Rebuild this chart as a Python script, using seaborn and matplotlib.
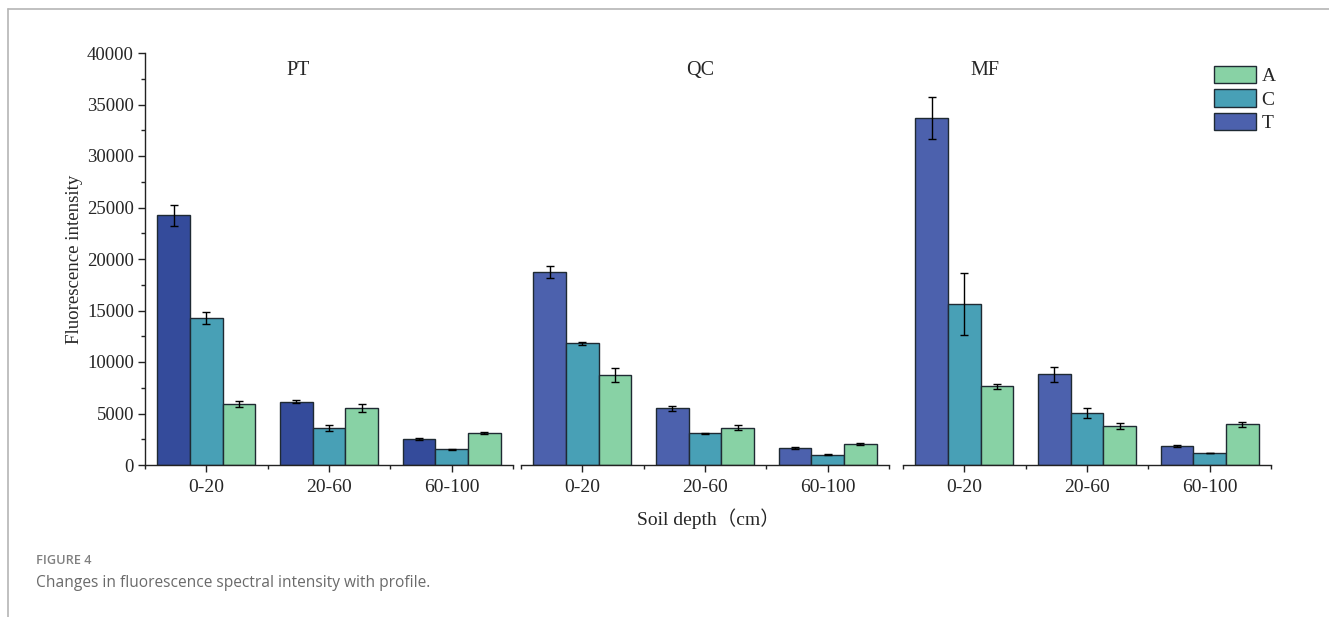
import matplotlib
matplotlib.use("Agg")
import matplotlib.pyplot as plt
import matplotlib.patches as mpatches
from matplotlib.lines import Line2D
from matplotlib.ticker import MultipleLocator, FixedLocator
import seaborn as sns
import pandas as pd

# data
sites = ["PT", "QC", "MF"]
depths = ["0-20", "20-60", "60-100"]
fractions = ["T", "C", "A"]

pt_mean = {"T": [24250, 6150, 2550], "C": [14300, 3600, 1550], "A": [5950, 5550, 3100]}
pt_err = {"T": [1000, 120, 100], "C": [600, 300, 50], "A": [300, 400, 60]}
qc_mean = {"T": [18720, 5500, 1650], "C": [11800, 3100, 1000], "A": [8750, 3600, 2050]}
qc_err = {"T": [600, 250, 80], "C": [120, 50, 30], "A": [650, 250, 100]}
mf_mean = {"T": [33720, 8800, 1820], "C": [15600, 5050, 1150], "A": [7650, 3780, 3950]}
mf_err = {"T": [2050, 700, 80], "C": [3000, 440, 30], "A": [260, 330, 250]}

means = {"PT": pt_mean, "QC": qc_mean, "MF": mf_mean}
errs = {"PT": pt_err, "QC": qc_err, "MF": mf_err}

# colours
col_T_pt = "#344b9b"
col_T = "#4c61ad"
col_C = "#48a0b6"
col_A = "#88d2a5"

rows = []
for s in sites:
    for f in fractions:
        for i, d in enumerate(depths):
            rows.append({"site": s, "depth": d, "fraction": f,
                         "value": means[s][f][i], "err": errs[s][f][i]})
df = pd.DataFrame(rows)

sns.set_style("white")
plt.rcParams["font.family"] = ["Liberation Serif", "Noto Sans CJK SC", "DejaVu Sans"]
plt.rcParams["axes.linewidth"] = 1.0

fig = plt.figure(figsize=(13.29, 6.17), dpi=100)
W, H = 1329, 617
bottom_px, top_px = 465, 53
lefts = [145, 521, 903]
width_px = 368

title_x = {"PT": 0.747, "QC": 0.96, "MF": 0.17}
edge = "#1f2a33"

for k, s in enumerate(sites):
    ax = fig.add_axes([lefts[k] / W, (H - bottom_px) / H, width_px / W, (bottom_px - top_px) / H])
    sub = df[df["site"] == s]
    pal = {"T": col_T_pt if s == "PT" else col_T, "C": col_C, "A": col_A}
    sns.barplot(data=sub, x="depth", y="value", hue="fraction", order=depths,
                hue_order=fractions, palette=pal, errorbar=None, width=0.8,
                edgecolor=edge, linewidth=1.0, saturation=1, legend=False, ax=ax)

    # error bars on top of each bar
    for j, f in enumerate(fractions):
        part = sub[sub["fraction"] == f].set_index("depth").loc[depths]
        cont = ax.containers[j]
        xs = [p.get_x() + p.get_width() / 2 for p in cont.patches]
        ax.errorbar(xs, part["value"].values, yerr=part["err"].values, fmt="none",
                    ecolor="black", elinewidth=1.0, capsize=3, capthick=1.0, zorder=5)

    ax.set_xlim(-0.5, 2.5)
    ax.set_ylim(0, 40000)
    ax.set_xlabel("")
    ax.set_ylabel("")
    for side in ["top", "right"]:
        ax.spines[side].set_visible(False)
    ax.spines["bottom"].set_color("#222222")
    ax.xaxis.set_minor_locator(FixedLocator([-0.5, 0.5, 1.5, 2.5]))
    ax.tick_params(axis="x", which="major", direction="out", length=5, width=1.0,
                   labelsize=14, pad=5, bottom=True, color="#222222")
    ax.tick_params(axis="x", which="minor", direction="out", length=3, width=1.0,
                   bottom=True, color="#222222")
    if k == 0:
        ax.spines["left"].set_color("#222222")
        ax.yaxis.set_major_locator(MultipleLocator(5000))
        ax.yaxis.set_minor_locator(MultipleLocator(2500))
        ax.tick_params(axis="y", which="major", direction="out", length=5, width=1.0,
                       labelsize=13.5, pad=3, left=True, color="#222222")
        ax.tick_params(axis="y", which="minor", direction="out", length=3, width=1.0,
                       left=True, color="#222222")
        ax.set_ylabel("Fluorescence intensity", fontsize=13.6, labelpad=3)
    else:
        ax.spines["left"].set_visible(False)
        ax.set_yticks([])
    ax.text(title_x[s], 38300, s, ha="center", va="center", fontsize=14.5)

# legend (A, C, T from top)
handles = [mpatches.Patch(facecolor=col_A, edgecolor=edge, linewidth=1.0),
           mpatches.Patch(facecolor=col_C, edgecolor=edge, linewidth=1.0),
           mpatches.Patch(facecolor=col_T, edgecolor=edge, linewidth=1.0)]
fig.legend(handles, ["A", "C", "T"], loc="upper left",
           bbox_to_anchor=(1214 / W, 1 - 66 / H), frameon=False, fontsize=14,
           handlelength=2.15, handleheight=1.0, labelspacing=0.2,
           handletextpad=0.3, borderpad=0, borderaxespad=0)

fig.text(708 / W, 1 - 519 / H, "Soil depth（cm）", ha="center", va="center", fontsize=14)

# caption
fig.text(36 / W, 1 - 560 / H, "FIGURE 4", ha="left", va="center", fontsize=9.2,
         color="#808080", family="Open Sans", weight="semibold")
fig.text(36 / W, 1 - 583 / H, "Changes in fluorescence spectral intensity with profile.",
         ha="left", va="center", fontsize=11.2, color="#6a6a6a", family="Open Sans")

# page frame lines
fig.add_artist(Line2D([8 / W, 1], [1 - 9 / H, 1 - 9 / H], transform=fig.transFigure,
                      color="#b5b5b5", linewidth=1.2))
fig.add_artist(Line2D([8 / W, 8 / W], [0, 1 - 9 / H], transform=fig.transFigure,
                      color="#b5b5b5", linewidth=1.2))

fig.savefig("out.png", dpi=100)
